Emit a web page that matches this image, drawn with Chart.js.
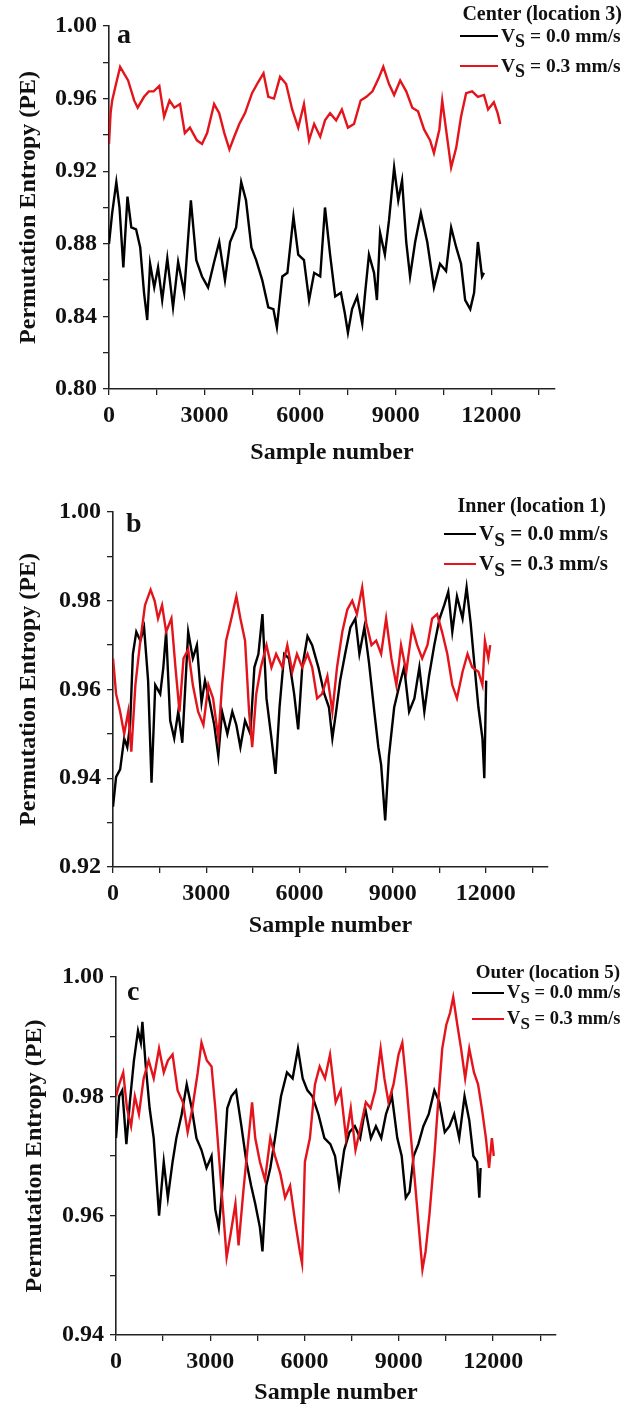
<!DOCTYPE html>
<html>
<head>
<meta charset="utf-8">
<script src="https://cdn.jsdelivr.net/npm/chart.js@4"></script>
<style>
  body { margin: 0; background: #fff; }
  #page { position: relative; width: 626px; height: 1407px; overflow: hidden; }
  .panel { position: absolute; left: 0; width: 626px; }
  .panel canvas { position: absolute; left: 0; top: 0; }
  .txt { position: absolute; font-family: 'Liberation Serif', 'Times New Roman', serif; font-weight: bold; color: #111; white-space: nowrap; }
  .row { display: flex; align-items: center; }
  .row .ln { display: inline-block; height: 2px; margin-right: 3px; }
  .row sub { font-size: 0.92em; vertical-align: -0.3em; line-height: 0; }
  .letter { font-size: 28px; }
</style>
</head>
<body>
<div id="page">
  <div class="panel" style="top:0; height:480px;">
    <canvas id="chartA" width="626" height="480"></canvas>
    <div class="txt letter" style="left:117px; top:18px;">a</div>
    <div class="txt" style="right:4px; top:2px; font-size:20px;">Center (location 3)</div>
    <div class="txt row" style="left:460px; top:25px; font-size:19.5px;"><span class="ln" style="width:38px; background:#000;"></span><span>V<sub>S</sub> = 0.0 mm/s</span></div>
    <div class="txt row" style="left:460px; top:55px; font-size:19.5px;"><span class="ln" style="width:38px; background:#e3141b;"></span><span>V<sub>S</sub> = 0.3 mm/s</span></div>
  </div>
  <div class="panel" style="top:480px; height:470px;">
    <canvas id="chartB" width="626" height="470"></canvas>
    <div class="txt letter" style="left:126px; top:27px;">b</div>
    <div class="txt" style="right:20px; top:14px; font-size:20px;">Inner (location 1)</div>
    <div class="txt row" style="left:444px; top:41px; font-size:21px;"><span class="ln" style="width:32px; background:#000;"></span><span>V<sub>S</sub> = 0.0 mm/s</span></div>
    <div class="txt row" style="left:444px; top:71px; font-size:21px;"><span class="ln" style="width:32px; background:#e3141b;"></span><span>V<sub>S</sub> = 0.3 mm/s</span></div>
  </div>
  <div class="panel" style="top:950px; height:457px;">
    <canvas id="chartC" width="626" height="457"></canvas>
    <div class="txt letter" style="left:127px; top:25px;">c</div>
    <div class="txt" style="right:6px; top:11px; font-size:19px;">Outer (location 5)</div>
    <div class="txt row" style="left:472px; top:32px; font-size:18.5px;"><span class="ln" style="width:32px; background:#000;"></span><span>V<sub>S</sub> = 0.0 mm/s</span></div>
    <div class="txt row" style="left:472px; top:58px; font-size:18.5px;"><span class="ln" style="width:32px; background:#e3141b;"></span><span>V<sub>S</sub> = 0.3 mm/s</span></div>
  </div>
</div>
<script>
// Panel a - center (location 3)
const aBlackX = [0,100,230,330,450,580,700,850,980,1100,1200,1290,1420,1540,1670,1830,2010,2170,2360,2570,2740,2920,3110,3300,3460,3640,3800,3990,4150,4300,4470,4620,4810,5000,5160,5270,5440,5600,5790,5940,6120,6280,6440,6630,6780,6940,7100,7280,7400,7500,7630,7790,7950,8040,8160,8320,8410,8510,8660,8790,8950,9080,9200,9330,9450,9610,9790,9990,10200,10390,10580,10740,10900,11050,11180,11340,11460,11580,11710,11770];
const aBlackY = [0.880,0.897,0.914,0.900,0.867,0.906,0.889,0.888,0.878,0.853,0.838,0.869,0.856,0.867,0.849,0.872,0.845,0.870,0.853,0.904,0.871,0.862,0.856,0.870,0.881,0.860,0.881,0.889,0.914,0.904,0.878,0.871,0.860,0.845,0.844,0.834,0.862,0.864,0.895,0.874,0.871,0.849,0.864,0.862,0.900,0.874,0.851,0.853,0.842,0.831,0.844,0.851,0.836,0.853,0.874,0.864,0.849,0.886,0.874,0.893,0.922,0.904,0.915,0.881,0.862,0.881,0.897,0.881,0.856,0.869,0.865,0.889,0.878,0.869,0.849,0.844,0.853,0.881,0.862,0.864];
const aRedX = [0,50,100,220,350,600,790,900,1100,1250,1400,1580,1730,1900,2050,2230,2380,2540,2760,2920,3080,3300,3460,3620,3780,3930,4090,4270,4490,4680,4850,5000,5180,5370,5560,5750,5940,6120,6280,6440,6630,6780,6940,7130,7310,7500,7690,7900,8080,8270,8460,8610,8790,8950,9140,9330,9520,9700,9890,10080,10200,10370,10460,10580,10740,10900,11050,11210,11400,11580,11770,11900,12080,12200,12280];
const aRedY = [0.935,0.952,0.959,0.968,0.9775,0.970,0.959,0.955,0.961,0.964,0.964,0.967,0.950,0.959,0.955,0.957,0.941,0.944,0.937,0.935,0.941,0.957,0.952,0.941,0.932,0.939,0.946,0.952,0.963,0.969,0.974,0.961,0.960,0.972,0.968,0.954,0.944,0.957,0.937,0.946,0.939,0.948,0.952,0.948,0.954,0.944,0.946,0.959,0.961,0.964,0.971,0.9775,0.968,0.962,0.970,0.964,0.955,0.953,0.943,0.937,0.930,0.943,0.959,0.943,0.922,0.933,0.950,0.963,0.964,0.961,0.962,0.954,0.958,0.952,0.946];

// Panel b - inner (location 1)
const bBlackX = [0,100,230,360,460,550,640,750,880,1000,1130,1240,1360,1520,1620,1710,1840,1970,2100,2230,2420,2570,2700,2850,2960,3090,3260,3390,3510,3680,3840,3970,4100,4250,4420,4550,4680,4810,4940,5100,5230,5360,5510,5660,5830,5960,6090,6260,6410,6610,6800,6950,7060,7180,7310,7470,7640,7800,7930,8090,8240,8410,8540,8630,8760,8880,9050,9220,9370,9530,9700,9860,10020,10170,10340,10510,10660,10790,10920,11070,11250,11380,11510,11640,11760,11890,11950,12010];
const bBlackY = [0.9336,0.9403,0.942,0.949,0.947,0.952,0.968,0.973,0.971,0.974,0.962,0.939,0.961,0.959,0.965,0.973,0.953,0.949,0.955,0.948,0.973,0.967,0.970,0.957,0.962,0.958,0.952,0.945,0.955,0.950,0.955,0.952,0.947,0.953,0.950,0.965,0.968,0.977,0.958,0.949,0.941,0.956,0.968,0.967,0.959,0.951,0.965,0.972,0.970,0.965,0.959,0.956,0.949,0.955,0.962,0.968,0.974,0.976,0.968,0.974,0.966,0.955,0.947,0.943,0.9305,0.945,0.956,0.961,0.965,0.955,0.958,0.965,0.955,0.963,0.970,0.976,0.979,0.982,0.973,0.981,0.976,0.983,0.975,0.965,0.956,0.949,0.940,0.962];
const bRedX = [0,100,230,360,490,590,720,880,1030,1210,1340,1450,1580,1710,1880,2010,2140,2270,2420,2570,2740,2910,3070,3220,3390,3510,3640,3810,3970,4100,4250,4380,4480,4610,4760,4940,5100,5250,5450,5610,5770,5920,6090,6260,6410,6570,6730,6900,7060,7210,7380,7540,7700,7850,8020,8150,8320,8470,8630,8790,8960,9120,9270,9440,9630,9790,9950,10120,10270,10430,10590,10760,10920,11070,11250,11410,11560,11760,11890,11970,12080,12140];
const bRedY = [0.967,0.959,0.955,0.950,0.955,0.946,0.961,0.971,0.979,0.9825,0.980,0.976,0.979,0.973,0.976,0.965,0.955,0.967,0.969,0.961,0.955,0.952,0.961,0.958,0.949,0.961,0.971,0.976,0.981,0.976,0.971,0.955,0.947,0.959,0.965,0.970,0.965,0.968,0.965,0.970,0.964,0.968,0.965,0.968,0.965,0.958,0.959,0.963,0.955,0.965,0.973,0.978,0.980,0.977,0.983,0.975,0.970,0.971,0.968,0.976,0.967,0.961,0.970,0.964,0.974,0.970,0.967,0.970,0.976,0.977,0.973,0.968,0.961,0.958,0.964,0.968,0.965,0.964,0.961,0.971,0.967,0.970];

// Panel c - outer (location 5)
const cBlackX = [0,100,200,330,440,570,700,790,840,940,1070,1200,1370,1520,1650,1800,1920,2090,2250,2410,2560,2720,2880,3040,3160,3270,3390,3540,3670,3820,3990,4150,4300,4430,4580,4660,4780,4910,5060,5250,5440,5620,5790,5940,6090,6250,6440,6630,6820,6970,7100,7260,7430,7600,7770,7930,8110,8270,8440,8590,8780,8950,9090,9220,9340,9470,9620,9780,9950,10130,10290,10460,10610,10760,10920,11090,11240,11370,11490,11560,11600];
const cBlackY = [0.973,0.980,0.981,0.972,0.979,0.986,0.991,0.989,0.9925,0.9855,0.978,0.973,0.960,0.969,0.963,0.969,0.973,0.977,0.982,0.978,0.973,0.971,0.968,0.970,0.961,0.958,0.965,0.978,0.980,0.981,0.975,0.969,0.965,0.962,0.958,0.954,0.965,0.968,0.973,0.980,0.984,0.983,0.988,0.983,0.981,0.980,0.977,0.973,0.972,0.970,0.965,0.971,0.974,0.975,0.973,0.978,0.973,0.975,0.973,0.977,0.980,0.973,0.970,0.963,0.964,0.970,0.972,0.975,0.977,0.981,0.979,0.974,0.975,0.977,0.973,0.980,0.976,0.970,0.969,0.963,0.968];
const cRedX = [0,100,230,350,480,600,730,880,1040,1200,1370,1520,1650,1800,1960,2130,2280,2430,2600,2720,2890,3040,3160,3290,3420,3520,3650,3800,3900,4050,4180,4330,4430,4580,4740,4910,5060,5230,5380,5540,5700,5850,5920,6010,6170,6330,6480,6650,6810,6990,7150,7320,7470,7620,7790,7950,8100,8250,8420,8540,8670,8830,8990,9110,9240,9370,9490,9620,9750,9850,9970,10130,10250,10380,10510,10630,10730,10860,10980,11110,11240,11390,11520,11640,11770,11870,11960,12020];
const cRedY = [0.980,0.982,0.984,0.978,0.975,0.980,0.977,0.983,0.986,0.983,0.988,0.984,0.986,0.987,0.981,0.979,0.974,0.978,0.984,0.989,0.986,0.985,0.978,0.969,0.960,0.953,0.957,0.962,0.955,0.964,0.971,0.979,0.973,0.969,0.966,0.973,0.970,0.967,0.963,0.965,0.959,0.954,0.952,0.969,0.973,0.982,0.985,0.983,0.987,0.979,0.981,0.973,0.978,0.971,0.975,0.979,0.978,0.981,0.988,0.983,0.979,0.982,0.987,0.989,0.982,0.974,0.967,0.959,0.951,0.954,0.960,0.970,0.979,0.988,0.992,0.994,0.9966,0.992,0.988,0.983,0.988,0.984,0.982,0.978,0.973,0.968,0.973,0.970];

// Axis ticks (minor + major) and the ones that carry a label
const xTicks = [0,1500,3000,4500,6000,7500,9000,10500,12000,13500];
const xTickLabels = [0,3000,6000,9000,12000];
const yTicksA = [0.80,0.82,0.84,0.86,0.88,0.90,0.92,0.94,0.96,0.98,1.00];
const yTickLabelsA = [0.80,0.84,0.88,0.92,0.96,1.00];
const yTicksB = [0.92,0.93,0.94,0.95,0.96,0.97,0.98,0.99,1.00];
const yTickLabelsB = [0.92,0.94,0.96,0.98,1.00];
const yTicksC = [0.94,0.95,0.96,0.97,0.98,0.99,1.00];
const yTickLabelsC = [0.94,0.96,0.98,1.00];
const xMax = 14000;

const RED = '#e3141b';
const AXIS = '#222';
const FONT = "'Liberation Serif', 'Times New Roman', serif";

function zip(xs, ys) {
    if (xs.length !== ys.length) console.warn('length mismatch', xs.length, ys.length);
    const n = Math.min(xs.length, ys.length);
    const out = [];
    for (let i = 0; i < n; i++) out.push({ x: xs[i], y: ys[i] });
    return out;
}

function hasLabel(list, v) {
    return list.some(l => Math.abs(l - v) < 1e-6);
}

function makePanel(id, p) {
    const font = { family: FONT, size: 24, weight: 'bold' };
    return new Chart(document.getElementById(id), {
        type: 'line',
        data: {
            datasets: [
                { label: 'VS = 0.3 mm/s', data: zip(p.redX, p.redY), borderColor: RED, borderWidth: 2.4, pointRadius: 0, order: 1 },
                { label: 'VS = 0.0 mm/s', data: zip(p.blackX, p.blackY), borderColor: '#000', borderWidth: 2.4, pointRadius: 0, order: 2 }
            ]
        },
        options: {
            responsive: false,
            animation: false,
            events: [],
            layout: { padding: { top: p.top, right: 626 - p.right, left: 0, bottom: 0 } },
            plugins: { legend: { display: false }, tooltip: { enabled: false } },
            scales: {
                x: {
                    type: 'linear',
                    min: 0,
                    max: xMax,
                    afterBuildTicks: s => { s.ticks = xTicks.map(v => ({ value: v })); },
                    afterFit: s => { s.height = p.xHeight; },
                    ticks: {
                        autoSkip: false,
                        maxRotation: 0,
                        padding: 6,
                        color: '#111',
                        font: font,
                        callback: v => (hasLabel(xTickLabels, v) ? String(v) : '')
                    },
                    grid: { drawOnChartArea: false, tickLength: 6, color: AXIS, lineWidth: 1.3 },
                    border: { color: AXIS, width: 1.6 },
                    title: { display: true, text: 'Sample number', color: '#111', font: font, padding: { top: 0, bottom: p.xTitlePad } }
                },
                y: {
                    min: p.yMin,
                    max: 1.0,
                    afterBuildTicks: s => { s.ticks = p.yTicks.map(v => ({ value: v })); },
                    afterFit: s => { s.width = p.left; },
                    ticks: {
                        autoSkip: false,
                        padding: 6,
                        color: '#111',
                        font: font,
                        callback: v => (hasLabel(p.yLabels, v) ? v.toFixed(2) : '')
                    },
                    grid: { drawOnChartArea: false, tickLength: 6, color: AXIS, lineWidth: 1.3 },
                    border: { color: AXIS, width: 1.6 },
                    title: { display: true, text: 'Permutation Entropy (PE)', color: '#111', font: font, padding: { top: p.yTitlePad, bottom: 0 } }
                }
            }
        }
    });
}

makePanel('chartA', {
    blackX: aBlackX, blackY: aBlackY, redX: aRedX, redY: aRedY,
    yMin: 0.80, yTicks: yTicksA, yLabels: yTickLabelsA,
    top: 26, left: 109, right: 555, xHeight: 91, xTitlePad: 13, yTitlePad: 14
});
makePanel('chartB', {
    blackX: bBlackX, blackY: bBlackY, redX: bRedX, redY: bRedY,
    yMin: 0.92, yTicks: yTicksB, yLabels: yTickLabelsB,
    top: 32, left: 113, right: 548, xHeight: 83, xTitlePad: 10, yTitlePad: 14
});
makePanel('chartC', {
    blackX: cBlackX, blackY: cBlackY, redX: cRedX, redY: cRedY,
    yMin: 0.94, yTicks: yTicksC, yLabels: yTickLabelsC,
    top: 27, left: 116, right: 556, xHeight: 72, xTitlePad: 0, yTitlePad: 20
});
</script>
</body>
</html>
